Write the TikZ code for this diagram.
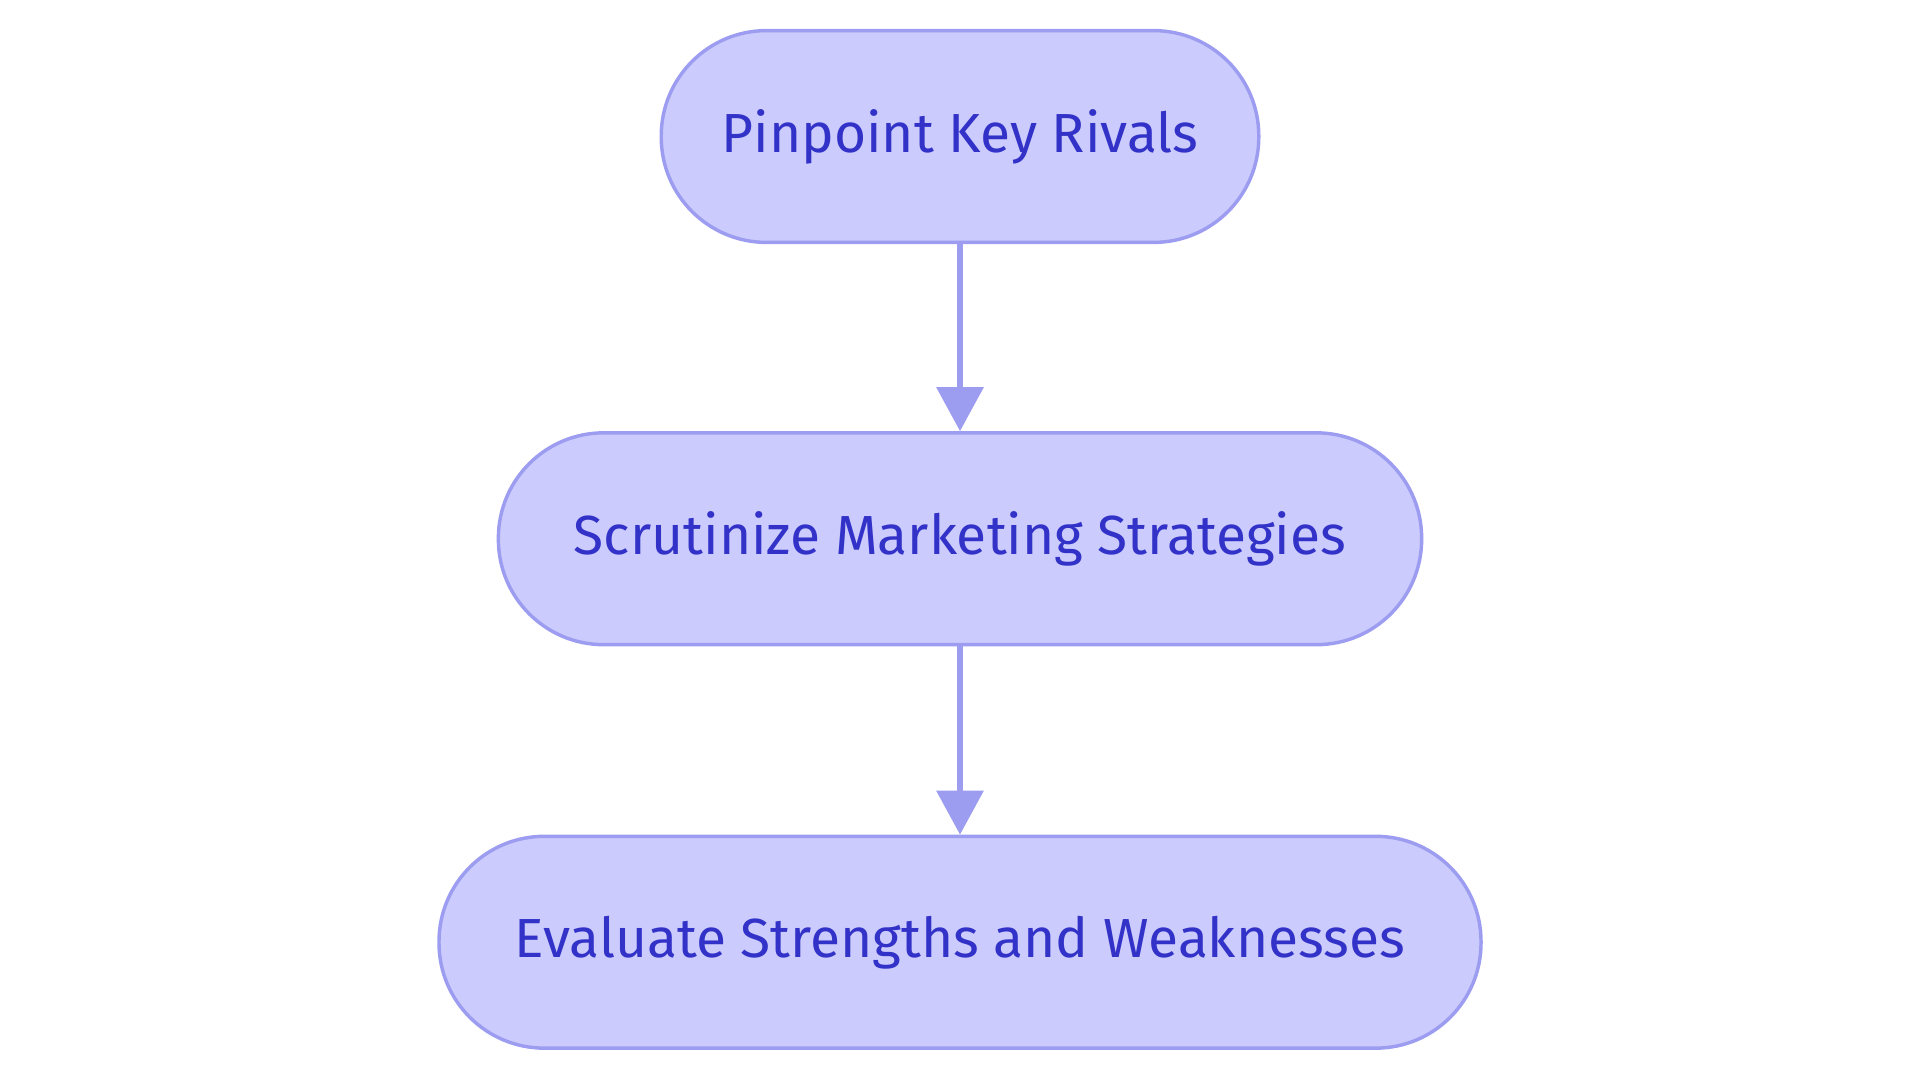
\documentclass[tikz,border=0pt]{standalone}
\usepackage{fontspec}
\setmainfont{Fira Sans}
\usepackage{xcolor}
\usetikzlibrary{arrows.meta, positioning}
\definecolor{boxfill}{HTML}{CBCBFD}
\definecolor{boxline}{HTML}{9C9CF0}
\definecolor{boxtext}{HTML}{3232C8}

\begin{document}
\begin{tikzpicture}[
    stage/.style={
        rectangle,
        draw=boxline,
        fill=boxfill,
        line width=0.8pt,
        rounded corners=0.86cm,
        minimum height=1.73cm,
        align=center,
        text=boxtext,
        font=\fontsize{12.8}{15}\selectfont
    }
]
\useasboundingbox (0,0) rectangle (15.68,8.84);

\node[stage, minimum width=4.88cm] (rivals) at (7.84,7.725) {Pinpoint Key Rivals};

\node[stage, minimum width=7.54cm] (marketing) at (7.84,4.44) {Scrutinize Marketing Strategies};

\node[stage, minimum width=8.51cm] (evaluate) at (7.84,1.145) {Evaluate Strengths and Weaknesses};

\draw[-{Triangle[width=0.38cm,length=0.36cm]}, boxline, line width=1.2pt] (rivals) -- (marketing);
\draw[-{Triangle[width=0.38cm,length=0.36cm]}, boxline, line width=1.2pt] (marketing) -- (evaluate);

\end{tikzpicture}
\end{document}
